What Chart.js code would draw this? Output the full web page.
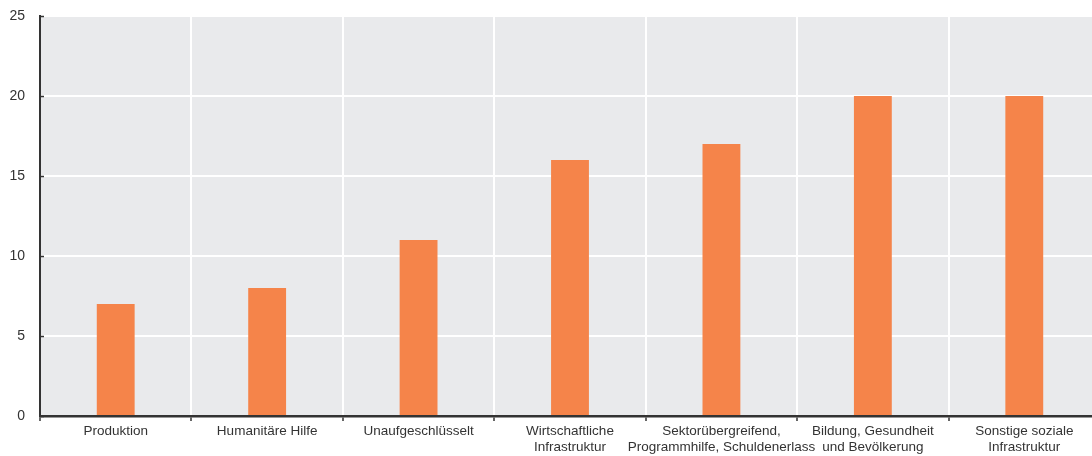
<!DOCTYPE html>
<html>
<head>
<meta charset="utf-8">
<script src="https://cdn.jsdelivr.net/npm/chart.js@4"></script>
<style>
  html, body { margin: 0; padding: 0; background: #ffffff; overflow: hidden; }
  #wrap { width: 1100px; height: 456px; }
</style>
</head>
<body>
<div id="wrap"><canvas id="chart"></canvas></div>
<script>
// Chart data
const categories = [
  'Produktion',
  'Humanitäre Hilfe',
  'Unaufgeschlüsselt',
  ['Wirtschaftliche', 'Infrastruktur'],
  ['Sektorübergreifend,', 'Programmhilfe, Schuldenerlass'],
  ['Bildung, Gesundheit', 'und Bevölkerung'],
  ['Sonstige soziale', 'Infrastruktur']
];
const values = [7, 8, 11, 16, 17, 20, 20];
const yTicks = [0, 5, 10, 15, 20, 25];

const textColor = '#333333';
const fontFamily = "'Liberation Sans', Arial, sans-serif";

// Gray plot background and short inward ticks on the y axis
const plotBackground = {
  id: 'plotBackground',
  beforeDraw(chart) {
    const { ctx, chartArea } = chart;
    ctx.save();
    ctx.fillStyle = '#e9eaec';
    ctx.fillRect(chartArea.left, chartArea.top, chartArea.right - chartArea.left, chartArea.bottom - chartArea.top);
    ctx.restore();
  },
  afterDraw(chart) {
    const { ctx, chartArea } = chart;
    const y = chart.scales.y;
    ctx.save();
    ctx.strokeStyle = textColor;
    ctx.lineWidth = 1.5;
    yTicks.forEach((v) => {
      const py = Math.round(y.getPixelForValue(v)) + 0.5;
      ctx.beginPath();
      ctx.moveTo(chartArea.left, py);
      ctx.lineTo(chartArea.left + 4, py);
      ctx.stroke();
    });
    ctx.restore();
  }
};

const ctx = document.getElementById('chart').getContext('2d');
window.barChart = new Chart(ctx, {
  type: 'bar',
  data: {
    labels: categories,
    datasets: [
      {
        data: values,
        backgroundColor: '#f5844a',
        borderWidth: 0,
        barPercentage: 0.25,
        categoryPercentage: 1
      }
    ]
  },
  options: {
    responsive: true,
    maintainAspectRatio: false,
    animation: false,
    layout: {
      padding: { top: 16, right: 0, left: 0, bottom: 0 }
    },
    plugins: {
      legend: { display: false },
      tooltip: { enabled: false }
    },
    scales: {
      x: {
        offset: true,
        grid: {
          offset: true,
          color: '#ffffff',
          lineWidth: 2,
          tickColor: textColor,
          tickLength: 5,
          tickWidth: 1.5
        },
        border: { color: textColor, width: 2.5 },
        ticks: {
          color: textColor,
          padding: 3,
          maxRotation: 0,
          autoSkip: false,
          font: { size: 13.5, family: fontFamily, lineHeight: 1.15 }
        },
        afterFit(scale) {
          scale.height = 40;
        }
      },
      y: {
        min: 0,
        max: 25,
        grid: {
          color: '#ffffff',
          lineWidth: 2,
          drawTicks: false
        },
        border: { color: textColor, width: 2 },
        ticks: {
          stepSize: 5,
          color: textColor,
          padding: 15,
          font: { size: 14, family: fontFamily }
        },
        afterFit(scale) {
          scale.width = 40;
          // tick padding otherwise pushes the plot top down
          scale.paddingTop = 0;
          scale.paddingBottom = 0;
        }
      }
    }
  },
  plugins: [plotBackground]
});
</script>
</body>
</html>
